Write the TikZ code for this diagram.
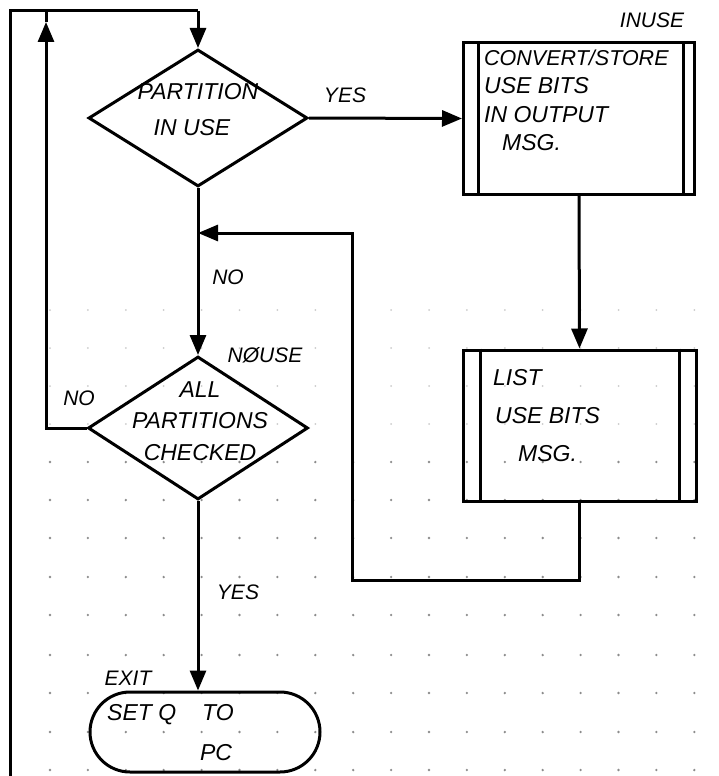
\documentclass[tikz,border=0pt]{standalone}
\usepackage{fontspec}
\setmainfont{Liberation Sans}
\usetikzlibrary{shapes.geometric,arrows.meta}
\begin{document}
\begin{tikzpicture}[x=1pt,y=-1pt,
  line/.style={line width=3pt},
  arr/.style={line width=3pt,-{Triangle[length=20pt,width=16pt]}},
  dia/.style={draw,line width=3pt,diamond,inner sep=0pt,minimum width=#1},
  procbox/.style={draw,line width=3pt,rectangle,inner sep=0pt},
  term/.style={draw,line width=3pt,rectangle,rounded corners=40pt,inner sep=0pt,minimum width=230pt,minimum height=80pt},
  hand/.style={font=\fontsize{23}{28}\selectfont\itshape,inner sep=0pt,anchor=center},
  lab/.style={font=\fontsize{21}{24}\selectfont\itshape,inner sep=0pt}]
\useasboundingbox (0,0) rectangle (719,776);
\fill[white] (0,0) rectangle (719,776);
% graph paper dots
\foreach \yy in {462,500,538,577,615,655,693,732,770}{
  \foreach \k in {0,...,17}{
    \fill[black!45] ({50+37.9*\k},\yy) circle (1.3pt);
  }
}
\foreach \yy in {310,348,386,424}{
  \foreach \k in {0,...,17}{
    \fill[black!20] ({50+37.9*\k},\yy) circle (1pt);
  }
}
% nodes
\node[dia=219pt,minimum height=137pt] (d1) at (198,118) {};
\node[hand] (d1a) at (198,92) {PARTITION};
\node[hand] (d1b) at (192,128) {IN USE};
\node[dia=220pt,minimum height=143pt] (d2) at (198,428) {};
\node[hand] (d2a) at (200,390) {ALL};
\node[hand] (d2b) at (200,421) {PARTITIONS};
\node[hand] (d2c) at (200,453) {CHECKED};
\node[procbox,minimum width=231pt,minimum height=151pt] (b1) at (579,118.5) {};
\draw[line] ([xshift=16pt]b1.north west) -- ([xshift=16pt]b1.south west);
\draw[line] ([xshift=-13pt]b1.north east) -- ([xshift=-13pt]b1.south east);
\node[hand,anchor=west,font=\fontsize{21.5}{28}\selectfont\itshape] (b1a) at (484,58) {CONVERT/STORE};
\node[hand,anchor=west] (b1b) at (484,86) {USE BITS};
\node[hand,anchor=west] (b1c) at (484,115) {IN OUTPUT};
\node[hand,anchor=west] (b1d) at (502,143) {MSG.};
\node[procbox,minimum width=233pt,minimum height=151pt] (b2) at (579.5,425.5) {};
\draw[line] ([xshift=19pt]b2.north west) -- ([xshift=19pt]b2.south west);
\draw[line] ([xshift=-18pt]b2.north east) -- ([xshift=-18pt]b2.south east);
\node[hand,anchor=west] (b2a) at (493,378) {LIST};
\node[hand,anchor=west] (b2b) at (495,416) {USE BITS};
\node[hand,anchor=west] (b2c) at (518,454) {MSG.};
\node[term] (t) at (205,732) {};
\node[hand,anchor=west] (ta) at (107,715) {SET Q\hspace{26pt}TO};
\node[hand] (tb) at (216,753) {PC};
% labels
\node[lab] (lyes1) at (345,95) {YES};
\node[lab] (linuse) at (652,20) {INUSE};
\node[lab] (lno1) at (228,277) {NO};
\node[lab] (lnouse) at (265,355) {NØUSE};
\node[lab] (lno2) at (79,398) {NO};
\node[lab] (lyes2) at (238,592) {YES};
\node[lab] (lexit) at (128,678) {EXIT};
% connector coordinates
\coordinate (t0) at (10,776);
\coordinate (t1) at (10,11);
\coordinate (t2) at (198,11);
\coordinate (up1) at (46,22);
\coordinate (t3) at (46,11);
\coordinate (j1) at (198,233);
\coordinate (c2) at (352,580);
\coordinate (c3) at (352,233);
% connectors
\draw[line] (t0) -- (t1) -- (t2);
\draw[arr] (t2) -- (d1.north);
\draw[arr] (d1.east) -- (b1.west);
\draw[arr] (b1.south) -- (b2.north);
\draw[arr] (d1.south) -- (d2.north);
\draw[arr] (b2.south) |- (c2) -- (c3) -- (j1);
\draw[arr] (d2.west) -| (up1);
\draw[line] (up1) -- (t3);
\draw[arr] (d2.south) -- (d2.south |- t.north);
\end{tikzpicture}
\end{document}
